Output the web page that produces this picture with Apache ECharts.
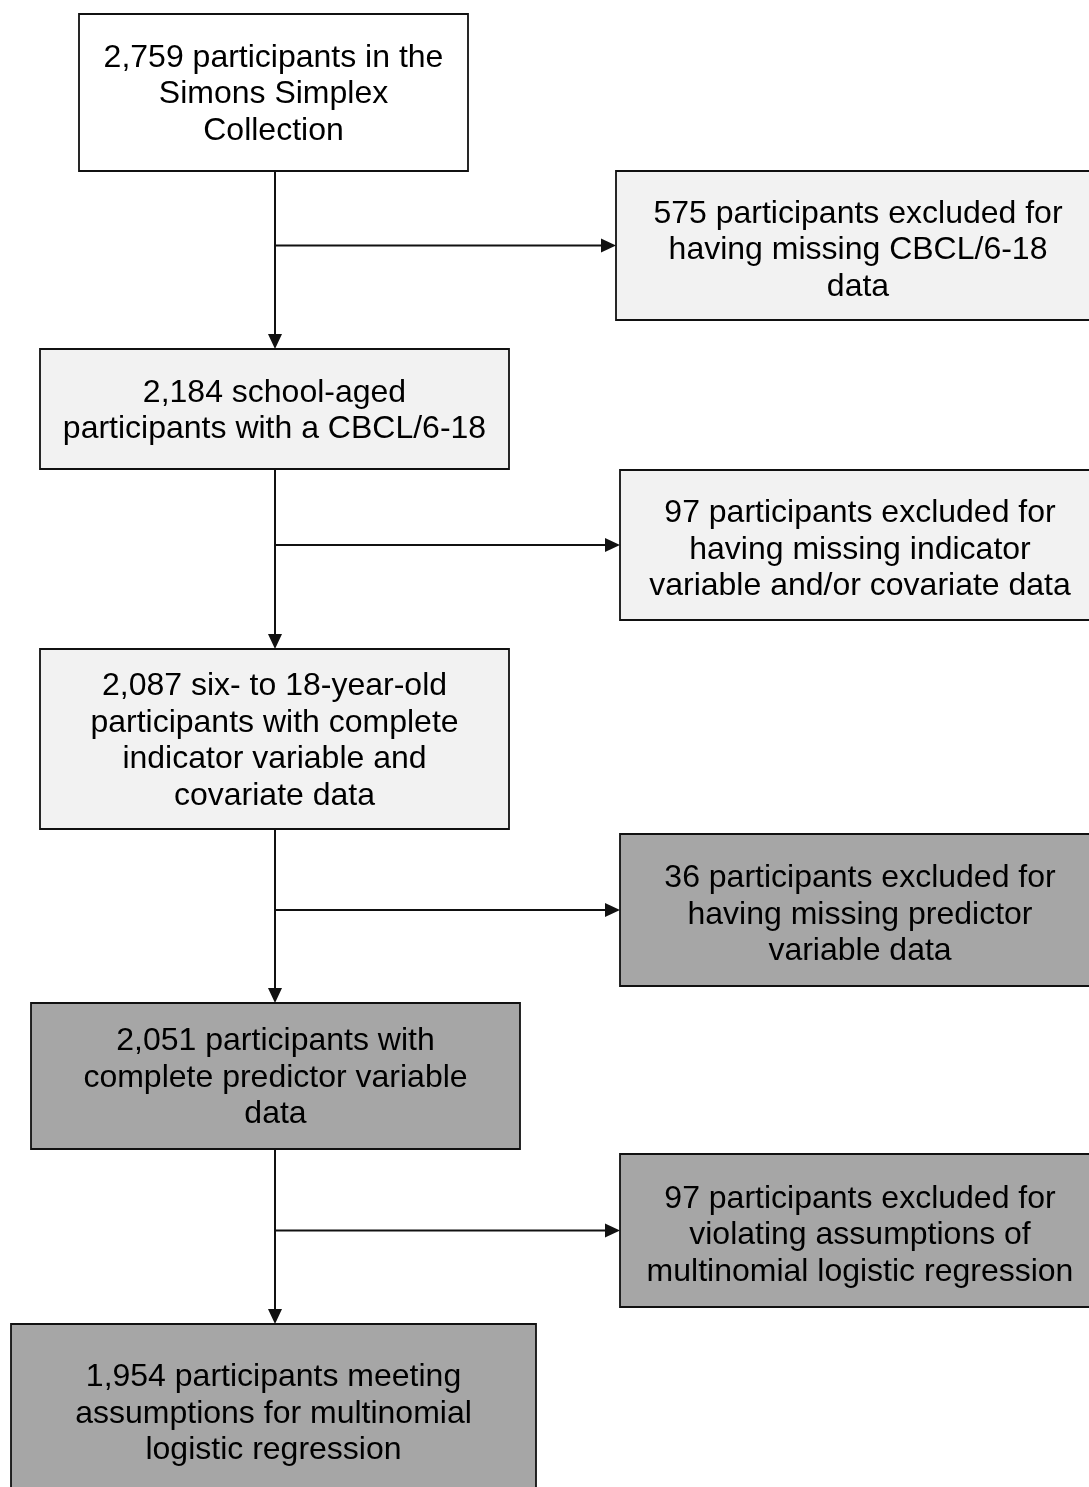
<!DOCTYPE html>
<html>
<head>
<meta charset="utf-8">
<title>Participant flow</title>
<script src="https://cdn.jsdelivr.net/npm/echarts@6/dist/echarts.min.js"></script>
<style>
html,body{margin:0;padding:0;background:#fff;}
#chart{width:1089px;height:1487px;}
</style>
</head>
<body>
<div id="chart"></div>
<script>
// box texts
const mainLabels = [
  '2,759 participants in the\nSimons Simplex\nCollection',
  '2,184 school-aged\nparticipants with a CBCL/6-18',
  '2,087 six- to 18-year-old\nparticipants with complete\nindicator variable and\ncovariate data',
  '2,051 participants with\ncomplete predictor variable\ndata',
  '1,954 participants meeting\nassumptions for multinomial\nlogistic regression'
]
const sideLabels = [
  '575 participants excluded for\nhaving missing CBCL/6-18\ndata',
  '97 participants excluded for\nhaving missing indicator\nvariable and/or covariate data',
  '36 participants excluded for\nhaving missing predictor\nvariable data',
  '97 participants excluded for\nviolating assumptions of\nmultinomial logistic regression'
]
// shade level of each box (0 white, 1 light, 2 dark)
const mainShade = [0, 1, 1, 2, 2]
const sideShade = [1, 1, 2, 2]

// layout (axis units = px): [x0, x1, y0, y1]
const mainBoxes = [[79, 468, 14, 171], [40, 509, 349, 469], [40, 509, 649, 829], [31, 520, 1003, 1149], [11, 536, 1324, 1500]]
const sideBoxes = [[616, 1100, 171, 320], [620, 1100, 470, 620], [620, 1100, 834, 986], [620, 1100, 1154, 1307]]
const trunkX = 275

const palette = ['#ffffff', '#f2f2f2', '#a6a6a6']
const FONT = '32px "Liberation Sans", Arial, sans-serif'

const boxData = []
mainBoxes.forEach((b, i) => boxData.push({ value: b, label: mainLabels[i], shade: mainShade[i], dy: 2 }))
sideBoxes.forEach((b, i) => boxData.push({ value: b, label: sideLabels[i], shade: sideShade[i], dy: 5 }))

// connectors: trunk segments + branches to the exclusion boxes
const linkData = []
for (let i = 0; i < mainBoxes.length - 1; i++) {
  linkData.push([trunkX, mainBoxes[i][3], trunkX, mainBoxes[i + 1][2]])
  const s = sideBoxes[i]
  const midY = (s[2] + s[3]) / 2
  linkData.push([trunkX, midY, s[0], midY])
}

const myChart = echarts.init(document.getElementById('chart'), null, { renderer: 'canvas' })
const option = {
  animation: false,
  grid: { left: 0, right: 0, top: 0, bottom: 0 },
  xAxis: { type: 'value', min: 0, max: 1089, show: false },
  yAxis: { type: 'value', min: 0, max: 1487, inverse: true, show: false },
  series: [
    {
      type: 'custom',
      data: boxData,
      renderItem: (params, api) => {
        const d = boxData[params.dataIndex]
        const v = d.value
        const p0 = api.coord([v[0], v[2]])
        const p1 = api.coord([v[1], v[3]])
        const cx = (p0[0] + p1[0]) / 2
        const cy = (p0[1] + p1[1]) / 2
        return {
          type: 'group',
          children: [
            {
              type: 'rect',
              shape: { x: p0[0], y: p0[1], width: p1[0] - p0[0], height: p1[1] - p0[1] },
              style: { fill: palette[d.shade], stroke: '#111', lineWidth: 1.8 }
            },
            {
              type: 'text',
              style: {
                text: d.label, x: cx, y: cy + d.dy,
                align: 'center', verticalAlign: 'middle',
                font: FONT, lineHeight: 36.5, fill: '#000'
              }
            }
          ]
        }
      }
    },
    {
      type: 'custom',
      data: linkData,
      renderItem: (params, api) => {
        const a = api.coord([api.value(0), api.value(1)])
        const b = api.coord([api.value(2), api.value(3)])
        const dx = b[0] - a[0], dy = b[1] - a[1]
        const len = Math.sqrt(dx * dx + dy * dy)
        const ux = dx / len, uy = dy / len
        const head = 15, half = 7
        const base = [b[0] - ux * head, b[1] - uy * head]
        return {
          type: 'group',
          children: [
            {
              type: 'line',
              shape: { x1: a[0], y1: a[1], x2: base[0], y2: base[1] },
              style: { stroke: '#111', lineWidth: 2 }
            },
            {
              type: 'polygon',
              shape: { points: [b, [base[0] - uy * half, base[1] + ux * half], [base[0] + uy * half, base[1] - ux * half]] },
              style: { fill: '#111' }
            }
          ]
        }
      }
    }
  ]
}
myChart.setOption(option)
</script>
</body>
</html>
